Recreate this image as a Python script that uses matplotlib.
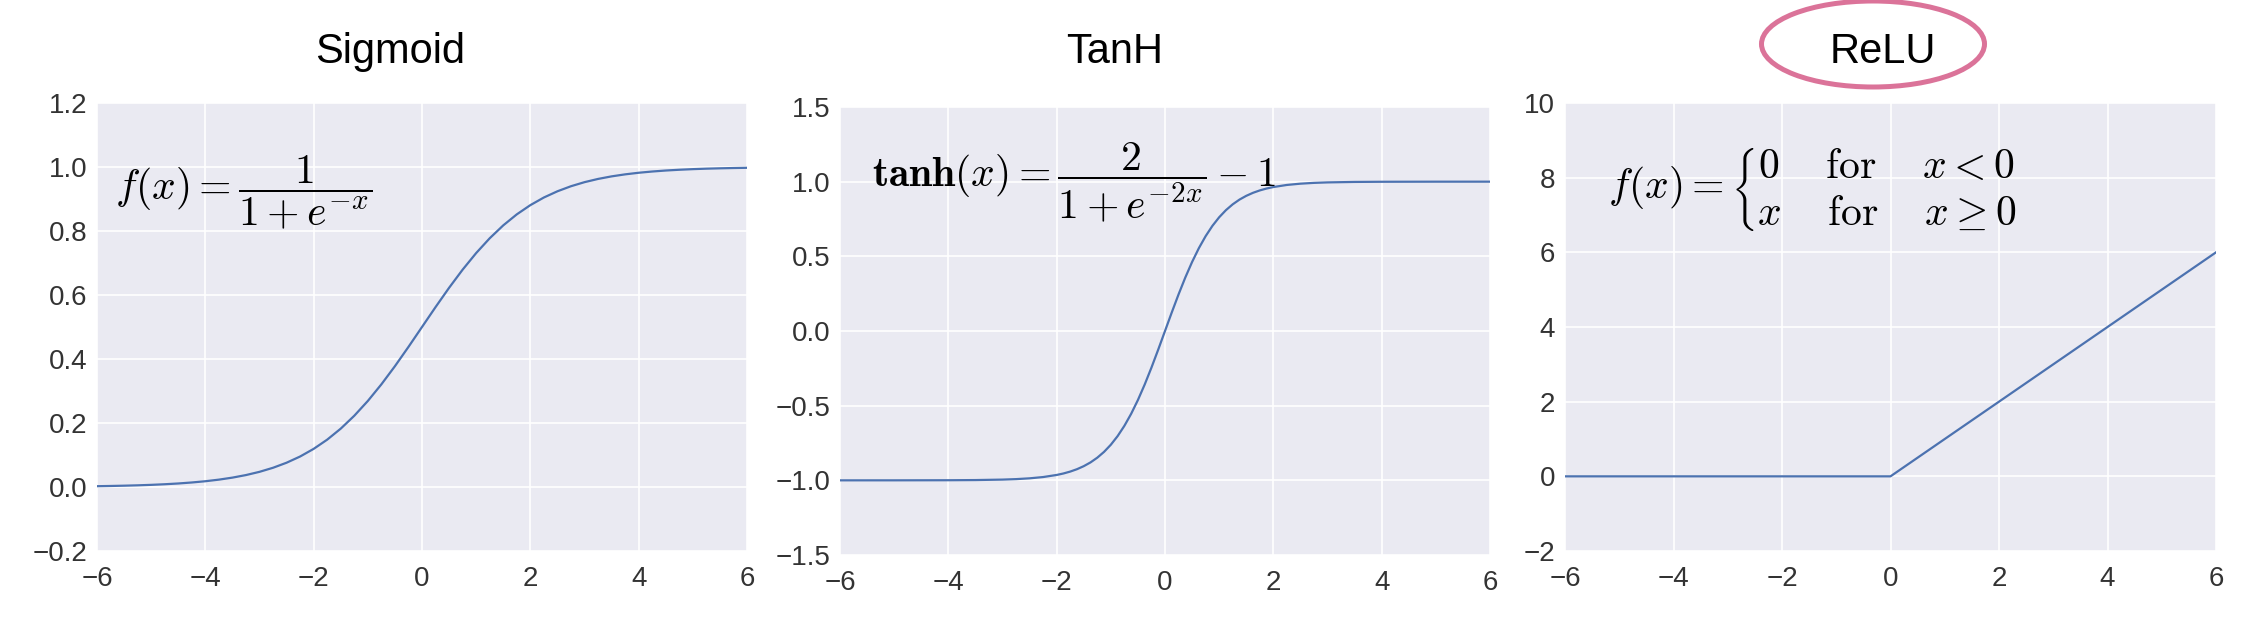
import matplotlib
matplotlib.use("Agg")
import matplotlib.pyplot as plt
from matplotlib.patches import Ellipse

# values
sig_x = [-6, -5.75, -5.5, -5.25, -5, -4.75, -4.5, -4.25, -4, -3.75, -3.5, -3.25,
         -3, -2.75, -2.5, -2.25, -2, -1.75, -1.5, -1.25, -1, -0.75, -0.5, -0.25,
         0, 0.25, 0.5, 0.75, 1, 1.25, 1.5, 1.75, 2, 2.25, 2.5, 2.75, 3, 3.25,
         3.5, 3.75, 4, 4.25, 4.5, 4.75, 5, 5.25, 5.5, 5.75, 6]
sig_y = [0.0025, 0.0032, 0.0041, 0.0052, 0.0067, 0.0086, 0.011, 0.0141, 0.018,
         0.023, 0.0293, 0.0373, 0.0474, 0.0601, 0.0759, 0.0953, 0.1192, 0.148,
         0.1824, 0.2227, 0.2689, 0.3208, 0.3775, 0.4378, 0.5, 0.5622, 0.6225,
         0.6792, 0.7311, 0.7773, 0.8176, 0.852, 0.8808, 0.9047, 0.9241, 0.9399,
         0.9526, 0.9627, 0.9707, 0.977, 0.982, 0.9859, 0.989, 0.9914, 0.9933,
         0.9948, 0.9959, 0.9968, 0.9975]

tanh_x = [-6, -5, -4, -3.5, -3, -2.75, -2.5, -2.25, -2, -1.875, -1.75, -1.625,
          -1.5, -1.375, -1.25, -1.125, -1, -0.875, -0.75, -0.625, -0.5, -0.375,
          -0.25, -0.125, 0, 0.125, 0.25, 0.375, 0.5, 0.625, 0.75, 0.875, 1,
          1.125, 1.25, 1.375, 1.5, 1.625, 1.75, 1.875, 2, 2.25, 2.5, 2.75, 3,
          3.5, 4, 5, 6]
tanh_y = [-1.0, -0.9999, -0.9993, -0.9982, -0.9951, -0.9919, -0.9866, -0.978,
          -0.964, -0.9541, -0.9414, -0.9254, -0.9051, -0.8799, -0.8483, -0.8093,
          -0.7616, -0.7039, -0.6351, -0.5546, -0.4621, -0.3584, -0.2449, -0.1244,
          0.0, 0.1244, 0.2449, 0.3584, 0.4621, 0.5546, 0.6351, 0.7039, 0.7616,
          0.8093, 0.8483, 0.8799, 0.9051, 0.9254, 0.9414, 0.9541, 0.964, 0.978,
          0.9866, 0.9919, 0.9951, 0.9982, 0.9993, 0.9999, 1.0]

relu_x = [-6, 0, 6]
relu_y = [0, 0, 6]

titles = ["Sigmoid", "TanH", "ReLU"]
x_ticks = [-6, -4, -2, 0, 2, 4, 6]
sig_yticks = [-0.2, 0.0, 0.2, 0.4, 0.6, 0.8, 1.0, 1.2]
tanh_yticks = [-1.5, -1.0, -0.5, 0.0, 0.5, 1.0, 1.5]
relu_yticks = [-2, 0, 2, 4, 6, 8, 10]

plt.rcParams['font.family'] = ['Liberation Sans', 'DejaVu Sans']
plt.rcParams['mathtext.fontset'] = 'cm'

W, H = 2254, 624
fig = plt.figure(figsize=(W / 100, H / 100), dpi=100)

def px_axes(l, t, r, b):
    return fig.add_axes([l / W, 1 - b / H, (r - l) / W, (b - t) / H])

def style(ax, yticks, fmt):
    ax.set_facecolor('#EAEAF2')
    for s in ax.spines.values():
        s.set_visible(False)
    ax.grid(True, color='white', lw=1.2)
    ax.set_axisbelow(True)
    ax.set_xlim(-6, 6)
    ax.set_xticks(x_ticks)
    ax.set_ylim(yticks[0], yticks[-1])
    ax.set_yticks(yticks)
    ax.set_yticklabels([(fmt % v).replace('-', '\u2212') for v in yticks])
    ax.tick_params(length=0, labelsize=20, labelcolor='#333333')
    ax.tick_params(axis='y', pad=7)
    ax.tick_params(axis='x', pad=11)

line_c = '#4C72B0'

ax1 = px_axes(97, 103, 747, 551)
style(ax1, sig_yticks, '%.1f')
ax1.plot(sig_x, sig_y, color=line_c, lw=1.6)
ax1.text(-5.67, 0.92, r'$f(x) = \dfrac{1}{1 + e^{-x}}$', fontsize=30,
         ha='left', va='center')

ax2 = px_axes(840, 107, 1490, 555)
style(ax2, tanh_yticks, '%.1f')
ax2.plot(tanh_x, tanh_y, color=line_c, lw=1.6)
ax2.text(-5.41, 1.0, r'$\mathbf{tanh}(x) = \dfrac{2}{1 + e^{-2x}} - 1$', fontsize=30,
         ha='left', va='center')

ax3 = px_axes(1565, 103, 2216, 551)
style(ax3, relu_yticks, '%d')
ax3.plot(relu_x, relu_y, color=line_c, lw=1.6)
ax3.text(-5.21, 7.67,
         r'$f(x) = \left\{\genfrac{}{}{0}{0}'
         r'{0\quad\;\mathrm{for}\quad\; x<0_{\ }}'
         r'{x\quad\;\mathrm{for}\quad\; x\geq 0^{\ }}\right.$',
         fontsize=30, ha='left', va='center')

# titles
for t, cx in zip(titles, [390, 1115, 1883]):
    fig.text(cx / W, 1 - 63 / H, t, fontsize=30, ha='center', va='baseline')

# pink ellipse round ReLU
fig.patches.append(Ellipse((1873 / W, 1 - 44 / H), 223 / W, 86 / H,
                           transform=fig.transFigure, fill=False,
                           edgecolor='#DB7399', lw=3.6))

fig.savefig('out.png', dpi=100, facecolor='white')
